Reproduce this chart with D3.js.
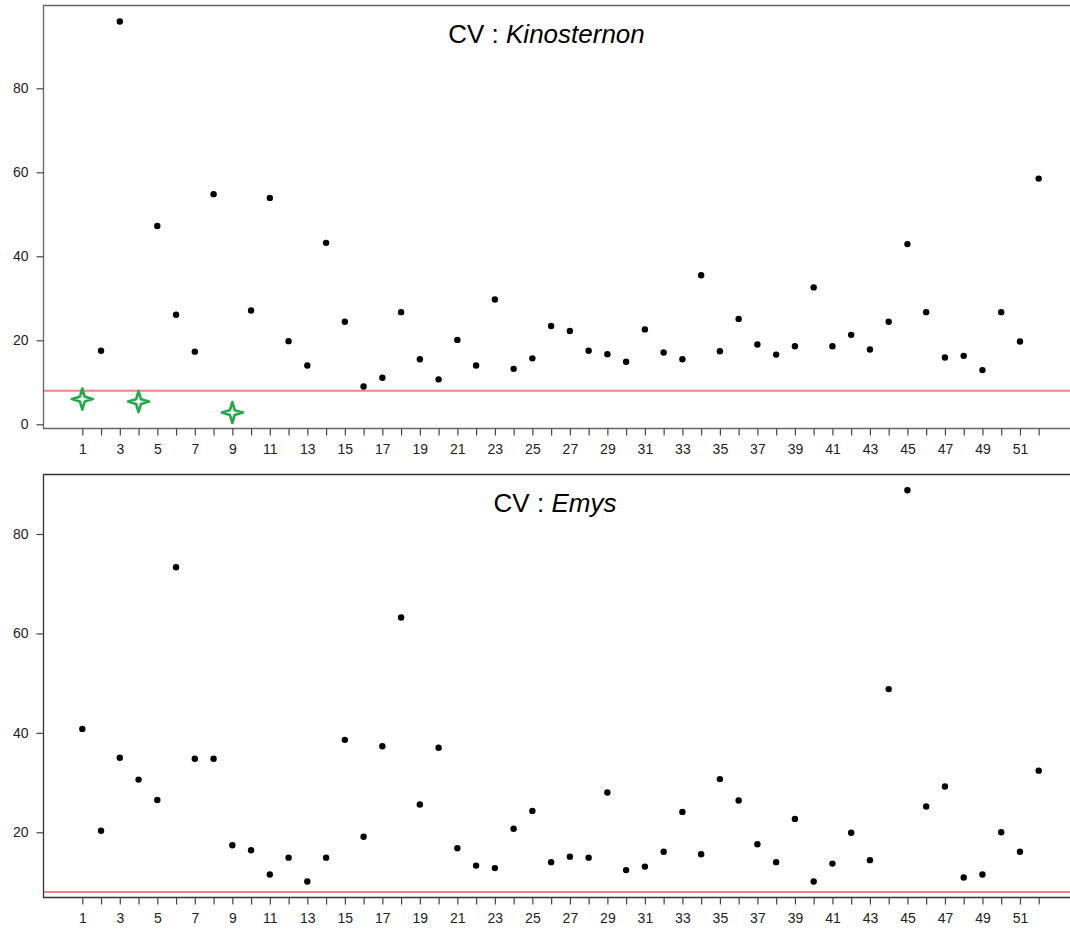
<!DOCTYPE html>
<html>
<head>
<meta charset="utf-8">
<script src="https://cdn.jsdelivr.net/npm/d3@7"></script>
<style>
  html, body { margin: 0; padding: 0; background: #fff; }
  svg { display: block; }
</style>
</head>
<body>
<svg id="chart" width="1070" height="935"></svg>
<script>
// ---------- DATA ----------
const indices = d3.range(1, 53);
const kinoValues = [6.0, 17.5, 95.9, 5.4, 47.2, 26.1, 17.3, 54.8, 2.8, 27.1,
  53.9, 19.8, 14.0, 43.2, 24.4, 9.0, 11.1, 26.7, 15.5, 10.7,
  20.1, 14.0, 29.7, 13.2, 15.7, 23.4, 22.2, 17.5, 16.7, 14.9,
  22.6, 17.1, 15.5, 35.5, 17.4, 25.1, 19.0, 16.6, 18.6, 32.6,
  18.6, 21.3, 17.8, 24.4, 42.9, 26.7, 15.9, 16.3, 12.9, 26.7,
  19.7, 58.5];
const kinoStars = [1, 4, 9];   // indices drawn as green stars (below threshold)
const emysValues = [40.8, 20.3, 35.0, 30.6, 26.5, 73.3, 34.8, 34.8, 17.4, 16.4,
  11.5, 14.9, 10.1, 14.9, 38.6, 19.1, 37.3, 63.2, 25.6, 37.0,
  16.8, 13.3, 12.8, 20.7, 24.3, 14.0, 15.1, 14.9, 28.0, 12.4,
  13.1, 16.1, 24.1, 15.6, 30.7, 26.4, 17.6, 14.0, 22.7, 10.1,
  13.7, 19.9, 14.4, 48.8, 88.8, 25.2, 29.2, 10.9, 11.5, 20.0,
  16.1, 32.4];
const emysStars = [];
const threshold = 8.0;
const xTickLabels = d3.range(1, 53, 2);
const kinoYTicks = [0, 20, 40, 60, 80];
const emysYTicks = [20, 40, 60, 80];
const titles = [["CV : ", "Kinosternon"], ["CV : ", "Emys"]];

// ---------- LAYOUT ----------
const svg = d3.select("#chart");
const W = 1070;
const x = d3.scaleLinear().domain([1, 52]).range([82.3, 1038.7]);

const panels = [
  { values: kinoValues, stars: kinoStars, yTicks: kinoYTicks, title: titles[0],
    top: 5.5, bottom: 428.5, yDom: [0, 80], yRange: [424.3, 88.3],
    titleX: 546.5, titleY: 42.5, frame: "#666" },
  { values: emysValues, stars: emysStars, yTicks: emysYTicks, title: titles[1],
    top: 474.5, bottom: 897.5, yDom: [20, 80], yRange: [832.3, 534],
    titleX: 555, titleY: 512, frame: "#333" }
];

const left = 43.5;
const font = "Liberation Sans, Arial, Helvetica, sans-serif";

const starPath = (() => {
  const R = 10.5, r = 3.4;
  const pts = [];
  for (let k = 0; k < 8; k++) {
    const a = -Math.PI / 2 + k * Math.PI / 4;
    const rad = k % 2 === 0 ? R : r;
    pts.push([rad * Math.cos(a), rad * Math.sin(a)]);
  }
  return "M" + pts.map(p => p[0].toFixed(2) + "," + p[1].toFixed(2)).join("L") + "Z";
})();

panels.forEach(p => {
  const g = svg.append("g");
  const y = d3.scaleLinear().domain(p.yDom).range(p.yRange);

  // threshold line
  g.append("line")
    .attr("x1", left).attr("x2", W)
    .attr("y1", y(threshold)).attr("y2", y(threshold))
    .attr("stroke", "#f08585").attr("stroke-width", 2);

  // frame: left, top, bottom
  g.append("path")
    .attr("d", `M${W},${p.top}H${left}V${p.bottom}H${W}`)
    .attr("fill", "none").attr("stroke", p.frame).attr("stroke-width", 1.3);

  // y axis
  const yAxis = d3.axisLeft(y).tickValues(p.yTicks).tickSize(7).tickPadding(8)
    .tickFormat(d3.format("d"));
  const ya = g.append("g").attr("transform", `translate(${left},0)`).call(yAxis);
  ya.select(".domain").remove();
  ya.selectAll(".tick line").attr("stroke", "#444").attr("stroke-width", 1.2);
  ya.selectAll(".tick text").attr("font-family", font).attr("font-size", 14)
    .attr("fill", "#222");

  // x axis
  const xAxis = d3.axisBottom(x).tickValues(indices).tickSize(7).tickPadding(9)
    .tickFormat(d => xTickLabels.includes(d) ? String(d) : "");
  const xa = g.append("g").attr("transform", `translate(0,${p.bottom})`).call(xAxis);
  xa.select(".domain").remove();
  xa.selectAll(".tick line").attr("stroke", "#444").attr("stroke-width", 1.2);
  xa.selectAll(".tick text").attr("font-family", font).attr("font-size", 14)
    .attr("fill", "#222");

  // points
  const dots = indices.map((i, k) => ({ i, v: p.values[k] }))
    .filter(d => !p.stars.includes(d.i));
  g.selectAll("circle.pt").data(dots).enter().append("circle")
    .attr("class", "pt")
    .attr("cx", d => x(d.i)).attr("cy", d => y(d.v))
    .attr("r", 3.2).attr("fill", "#000");

  const stars = indices.map((i, k) => ({ i, v: p.values[k] }))
    .filter(d => p.stars.includes(d.i));
  g.selectAll("path.star").data(stars).enter().append("path")
    .attr("class", "star")
    .attr("d", starPath)
    .attr("transform", d => `translate(${x(d.i)},${y(d.v)})`)
    .attr("fill", "#fff").attr("stroke", "#22aa4a").attr("stroke-width", 2.6)
    .attr("stroke-linejoin", "round");

  // title
  const t = g.append("text")
    .attr("x", p.titleX).attr("y", p.titleY)
    .attr("text-anchor", "middle")
    .attr("font-family", font).attr("font-size", 26).attr("fill", "#000");
  t.append("tspan").text(p.title[0]);
  t.append("tspan").attr("font-style", "italic").text(p.title[1]);
});
</script>
</body>
</html>
